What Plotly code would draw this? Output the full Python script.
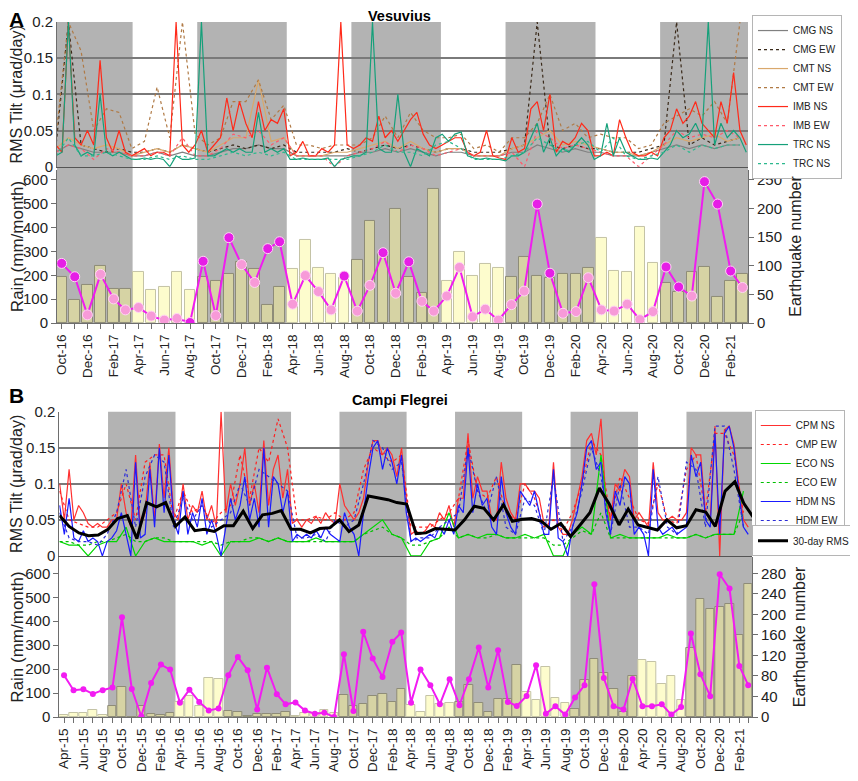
import numpy as np
import pandas as pd
import plotly.graph_objects as go
from plotly.subplots import make_subplots

FONT = "Liberation Sans, Arial, sans-serif"

# ---------------- Vesuvius (panel A) ----------------
# RMS tilt, values in 0.001 urad/day
ves_imb_ns = [30, 20, 200, 40, 30, 50, 30, 147, 40, 20,
              50, 20, 15, 20, 25, 15, 20, 20, 15, 200,
              30, 20, 30, 50, 20, 30, 40, 95, 50, 90,
              60, 40, 90, 50, 65, 60, 80, 15, 20, 35,
              15, 15, 25, 20, 30, 200, 30, 25, 30, 40,
              35, 70, 40, 50, 35, 50, 65, 75, 45, 30,
              25, 30, 35, 40, 40, 20, 15, 20, 50, 15,
              12, 10, 40, 20, 25, 80, 90, 50, 100, 20,
              35, 30, 40, 60, 50, 15, 15, 20, 15, 65,
              40, 20, 15, 15, 20, 15, 40, 50, 80, 60,
              70, 90, 60, 50, 40, 90, 60, 130, 50, 30]
ves_trc_ns = [15, 20, 200, 30, 15, 20, 15, 100, 20, 15,
              20, 15, 10, 10, 12, 10, 12, 10, 0, 15,
              10, 10, 12, 200, 15, 15, 20, 25, 20, 25,
              20, 20, 75, 20, 25, 20, 25, 10, 10, 12,
              10, 10, 10, 12, 0, 10, 12, 15, 15, 20,
              200, 25, 20, 20, 100, 20, 0, 25, 20, 15,
              40, 45, 35, 45, 48, 15, 12, 10, 12, 10,
              10, 8, 15, 15, 20, 40, 60, 20, 40, 15,
              25, 20, 30, 40, 30, 10, 15, 60, 15, 40,
              20, 15, 10, 10, 12, 10, 20, 30, 50, 40,
              45, 60, 40, 200, 30, 60, 40, 50, 40, 20]
ves_cmg_ns = [20, 30, 25, 20, 20, 20, 15, 15, 20, 15, 20, 15, 15, 20, 25, 25, 30, 25, 25, 15,
              15, 15, 15, 15, 20, 20, 25, 20, 25, 20, 15, 20, 20, 15, 15, 15, 20, 20, 30, 25,
              20, 25, 20, 20, 15, 15, 15, 20, 25, 30, 25, 30, 25, 30, 30]
ves_cmg_ew = [25, 200, 30, 25, 20, 25, 20, 20, 25, 20, 30, 25, 20, 25, 30, 25, 30, 25, 30, 20,
              20, 20, 20, 25, 20, 25, 30, 25, 30, 25, 20, 25, 25, 20, 20, 20, 25, 30, 200, 30,
              25, 30, 25, 25, 20, 20, 20, 25, 30, 200, 30, 40, 30, 35, 40]
ves_cmt_ns = [25, 40, 30, 25, 30, 25, 15, 20, 25, 20, 30, 25, 20, 30, 40, 40, 120, 35, 40, 15,
              15, 15, 20, 20, 25, 30, 35, 25, 35, 25, 20, 25, 25, 15, 15, 15, 25, 30, 40, 50,
              30, 35, 30, 25, 20, 20, 15, 20, 30, 40, 35, 40, 45, 35, 40]
ves_cmt_ew = [40, 200, 160, 50, 80, 75, 25, 35, 110, 40, 200, 45, 30, 40, 90, 90, 120, 65, 85, 30,
              30, 25, 30, 30, 30, 40, 70, 40, 75, 50, 40, 40, 45, 25, 30, 20, 40, 40, 60, 100,
              50, 60, 40, 45, 40, 40, 25, 30, 60, 70, 80, 70, 90, 60, 200]
ves_imb_ew = [20, 30, 25, 10, 25, 20, 15, 15, 20, 15, 40, 15, 15, 25, 45, 40, 50, 30, 40, 15,
              15, 15, 0, 15, 20, 25, 35, 20, 30, 25, 15, 20, 25, 15, 15, 15, 20, 0, 50, 40,
              25, 30, 25, 20, 15, 15, 0, 15, 30, 50, 40, 45, 40, 50, 40]
ves_trc_ew = [15, 40, 15, 15, 20, 15, 10, 10, 15, 10, 15, 10, 10, 15, 20, 15, 20, 15, 20, 10,
              10, 10, 10, 10, 15, 20, 30, 20, 20, 15, 30, 35, 25, 10, 10, 10, 15, 20, 40, 30,
              20, 30, 35, 20, 40, 15, 10, 15, 20, 30, 20, 30, 25, 30, 30]

# monthly rain (mm/month) and earthquake counts, Oct-16 .. Mar-21
ves_rain = [250, 194, 34, 204, 101, 55, 65, 29, 12, 19,
            2, 259, 31, 358, 245, 170, 312, 341, 79, 199,
            132, 55, 197, 50, 158, 295, 125, 257, 91, 50,
            113, 233, 26, 58, 12, 77, 134, 499, 209, 41,
            48, 190, 55, 50, 79, 14, 48, 235, 151, 113,
            593, 499, 218, 149]
ves_eq = [81, 41, 67, 100, 60, 60, 89, 58, 63, 90,
          58, 80, 73, 85, 106, 94, 32, 63, 94, 145,
          97, 86, 78, 111, 178, 121, 200, 81, 53, 234,
          74, 125, 83, 104, 97, 80, 116, 83, 79, 85,
          86, 96, 149, 91, 90, 168, 105, 70, 55, 89,
          98, 46, 74, 85]
ves_rain_flag = [1, 1, 0, 0, 0, 0, 0, 0, 0, 0,
                 1, 1, 0, 1, 0, 0, 1, 1, 0, 0,
                 0, 0, 1, 0, 0, 1, 0, 1, 0, 0,
                 0, 0, 0, 0, 0, 0, 0, 1, 1, 0,
                 0, 0, 0, 0, 0, 0, 0, 1, 1, 0,
                 1, 1, 1, 0]

# ---------------- Campi Flegrei (panel B) ----------------
cf_cpm_ns = [100, 50, 120, 50, 70, 60, 45, 40, 45, 40,
             40, 50, 50, 100, 60, 40, 140, 40, 60, 130,
             50, 155, 80, 150, 60, 50, 100, 50, 70, 60,
             90, 50, 70, 40, 200, 60, 100, 70, 100, 150,
             70, 100, 60, 160, 70, 120, 140, 80, 120, 45,
             50, 40, 50, 45, 55, 45, 60, 50, 45, 100,
             70, 60, 50, 60, 80, 130, 160, 160, 140, 150,
             140, 110, 150, 80, 30, 35, 30, 35, 45, 40,
             60, 50, 70, 40, 80, 80, 170, 80, 110, 90,
             90, 50, 50, 130, 80, 60, 50, 100, 100, 90,
             90, 80, 45, 40, 130, 40, 30, 30, 50, 80,
             110, 160, 170, 140, 190, 80, 50, 100, 90, 120,
             110, 50, 60, 50, 40, 130, 60, 50, 50, 55,
             50, 50, 60, 150, 140, 140, 60, 50, 180, 0,
             175, 180, 155, 100, 50, 40]
cf_hdm_ns = [70, 30, 80, 25, 20, 35, 20, 25, 20, 0,
             20, 25, 35, 60, 30, 0, 130, 25, 30, 120,
             40, 150, 60, 140, 50, 30, 90, 30, 60, 40,
             80, 30, 50, 30, 0, 40, 80, 50, 70, 110,
             50, 80, 40, 150, 40, 110, 100, 60, 90, 20,
             30, 25, 30, 25, 35, 25, 40, 30, 25, 20,
             60, 40, 30, 0, 60, 110, 150, 160, 120, 150,
             130, 100, 140, 60, 20, 25, 20, 25, 30, 25,
             40, 30, 50, 30, 70, 60, 150, 60, 100, 70,
             80, 40, 30, 110, 60, 40, 30, 90, 80, 70,
             90, 60, 30, 30, 120, 25, 20, 0, 40, 60,
             100, 150, 160, 120, 130, 60, 30, 90, 70, 110,
             100, 30, 40, 30, 0, 120, 40, 30, 35, 40,
             30, 35, 40, 140, 110, 130, 50, 40, 170, 30,
             170, 180, 150, 90, 40, 30]
cf_cmp_ew = [90, 50, 45, 40, 40, 50, 60, 100, 50, 130,
             140, 140, 50, 90, 60, 70, 45, 60, 70, 140,
             80, 150, 130, 190, 150, 50, 50, 55, 50, 60,
             50, 60, 120, 150, 140, 130, 140, 40, 40, 40,
             50, 60, 80, 160, 90, 80, 110, 60, 50, 100,
             80, 40, 50, 35, 60, 100, 160, 140, 50, 110,
             80, 50, 45, 100, 50, 45, 120, 140, 60, 170,
             170, 140, 60]
cf_hdm_ew = [60, 25, 20, 20, 15, 30, 60, 120, 40, 110,
             140, 130, 40, 80, 50, 70, 40, 50, 60, 100,
             70, 120, 110, 100, 90, 25, 25, 30, 20, 50,
             40, 50, 100, 160, 150, 120, 130, 20, 25, 25,
             40, 50, 60, 150, 90, 60, 110, 40, 30, 80,
             70, 30, 110, 20, 40, 90, 150, 110, 30, 100,
             40, 40, 30, 110, 40, 30, 130, 120, 40, 180,
             180, 120, 40]
cf_eco_ns = [20, 15, 15, 0, 15, 20, 20, 40, 0, 20,
             25, 20, 20, 20, 20, 15, 20, 0, 20, 20,
             20, 25, 20, 25, 20, 20, 20, 25, 20, 20,
             20, 20, 30, 40, 50, 30, 25, 0, 0, 20,
             25, 60, 25, 30, 25, 30, 30, 25, 25, 30,
             25, 30, 0, 0, 30, 40, 30, 140, 25, 30,
             25, 25, 25, 25, 30, 25, 25, 30, 25, 30,
             30, 30, 90]
cf_eco_ew = [20, 20, 15, 15, 20, 20, 25, 30, 20, 20,
             25, 25, 20, 20, 20, 20, 20, 15, 20, 20,
             25, 25, 20, 25, 20, 20, 20, 20, 20, 20,
             20, 20, 30, 35, 40, 30, 25, 15, 15, 20,
             25, 40, 25, 30, 25, 25, 30, 25, 25, 25,
             25, 25, 15, 15, 25, 35, 30, 60, 25, 25,
             25, 25, 25, 25, 25, 25, 25, 30, 25, 30,
             30, 30, 60]
cf_rms30 = [56, 41, 32, 28, 29, 37, 52, 56, 24, 74,
            68, 74, 41, 54, 35, 37, 34, 42, 42, 62,
            38, 57, 59, 63, 37, 37, 32, 38, 39, 50,
            34, 43, 83, 81, 78, 74, 72, 31, 32, 38,
            37, 36, 50, 69, 66, 50, 71, 48, 51, 52,
            48, 37, 45, 27, 43, 60, 94, 72, 43, 65,
            43, 40, 36, 50, 39, 42, 64, 61, 41, 90,
            103, 73, 53]

# monthly rain and earthquake counts, Apr-15 .. Mar-21
cf_rain = [174, 112, 116, 96, 112, 123, 416, 117, 3, 142,
           219, 198, 60, 114, 63, 27, 36, 174, 251, 195,
           31, 206, 95, 53, 61, 27, 14, 18, 0, 262,
           25, 356, 244, 167, 314, 353, 60, 198, 133, 53,
           158, 49, 158, 290, 123, 279, 63, 46, 88, 216,
           14, 45, 10, 81, 133, 554, 163, 45, 31, 159,
           45, 45, 53, 10, 42, 349, 179, 87, 596, 536,
           213, 133]
cf_eq = [3, 7, 7, 13, 3, 21, 59, 0, 22, 5,
         4, 8, 29, 40, 22, 77, 74, 11, 10, 2,
         5, 5, 5, 10, 2, 7, 7, 13, 7, 42,
         21, 25, 40, 44, 29, 55, 23, 9, 40, 25,
         27, 29, 62, 28, 10, 36, 36, 102, 49, 33,
         98, 38, 28, 15, 72, 113, 85, 55, 10, 79,
         111, 107, 64, 79, 34, 135, 231, 210, 215, 221,
         159, 260]


def dates(start, vals, freq):
    return pd.date_range(start, periods=len(vals), freq=freq)


def months(start, n):
    return pd.date_range(start, periods=n, freq="MS") + pd.Timedelta(days=14)


def tilt(vals):
    return np.array(vals) / 1000.0


def is_wet(m):
    return m.month >= 9 or m.month <= 3


ves_months = months("2016-10-01", len(ves_rain))
cf_months = months("2015-04-01", len(cf_rain))
ves_labels = [m.strftime("%b-%y") if i % 2 == 0 else "" for i, m in enumerate(ves_months)]
cf_labels = [m.strftime("%b-%y") if i % 2 == 0 else "" for i, m in enumerate(cf_months)]

fig = make_subplots(rows=4, cols=1,
                    specs=[[{}], [{"secondary_y": True}], [{}], [{"secondary_y": True}]])

# --- A tilt
ves_tilt = [
    ("CMG NS", ves_cmg_ns, "30D", "#808080", "solid"),
    ("CMG EW", ves_cmg_ew, "30D", "#3a2a1a", "dot"),
    ("CMT NS", ves_cmt_ns, "30D", "#d9a86c", "solid"),
    ("CMT EW", ves_cmt_ew, "30D", "#b07a45", "dot"),
    ("IMB NS", ves_imb_ns, "15D", "#ff2a1a", "solid"),
    ("IMB EW", ves_imb_ew, "30D", "#ff5a6a", "dot"),
    ("TRC NS", ves_trc_ns, "15D", "#15a07a", "solid"),
    ("TRC NS", ves_trc_ew, "30D", "#2cb98e", "dot"),
]
for name, vals, freq, col, dash in ves_tilt:
    fig.add_trace(go.Scatter(x=dates("2016-10-01", vals, freq), y=tilt(vals), name=name,
                             mode="lines", line=dict(color=col, width=1.2, dash=dash),
                             legend="legend"), row=1, col=1)

# --- A rain / earthquakes
ves_bar_col = ["#d6d3a4" if is_wet(m) else "#fdfccd" for m in ves_months]
ves_bar_line = ["#8e8c78" if is_wet(m) else "#c4c3a6" for m in ves_months]
fig.add_trace(go.Bar(x=ves_months, y=ves_eq, width=25 * 86400000, showlegend=False,
                     marker=dict(color=ves_bar_col, line=dict(color=ves_bar_line, width=1))),
              row=2, col=1, secondary_y=False)
fig.add_trace(go.Scatter(x=ves_months, y=ves_rain, mode="lines+markers", showlegend=False,
                         line=dict(color="#f01cf0", width=2),
                         marker=dict(size=10,
                                     color=["#e61ee6" if f else "#f79ad8" for f in ves_rain_flag],
                                     line=dict(color="#ffd6f4", width=1))),
              row=2, col=1, secondary_y=True)

# --- B tilt
cf_tilt = [
    ("CPM NS", cf_cpm_ns, "15D", "#ff3030", "solid"),
    ("CMP EW", cf_cmp_ew, "30D", "#ff2020", "dot"),
    ("ECO NS", cf_eco_ns, "30D", "#00d800", "solid"),
    ("ECO EW", cf_eco_ew, "30D", "#00c000", "dot"),
    ("HDM NS", cf_hdm_ns, "15D", "#1a1aff", "solid"),
    ("HDM EW", cf_hdm_ew, "30D", "#2b2bd8", "dot"),
]
for name, vals, freq, col, dash in cf_tilt:
    fig.add_trace(go.Scatter(x=dates("2015-04-01", vals, freq), y=tilt(vals), name=name,
                             mode="lines", line=dict(color=col, width=1.2, dash=dash),
                             legend="legend2"), row=3, col=1)
fig.add_trace(go.Scatter(x=pd.date_range("2015-04-01", periods=len(cf_rms30), freq="MS"),
                         y=tilt(cf_rms30), name="30-day RMS", mode="lines",
                         line=dict(color="black", width=3), legend="legend3"), row=3, col=1)

# --- B rain / earthquakes
cf_bar_col = ["#d6d3a4" if is_wet(m) else "#fdfccd" for m in cf_months]
cf_bar_line = ["#8e8c78" if is_wet(m) else "#c4c3a6" for m in cf_months]
fig.add_trace(go.Bar(x=cf_months, y=cf_eq, width=27 * 86400000, showlegend=False,
                     marker=dict(color=cf_bar_col, line=dict(color=cf_bar_line, width=1))),
              row=4, col=1, secondary_y=False)
fig.add_trace(go.Scatter(x=cf_months, y=cf_rain, mode="lines+markers", showlegend=False,
                         line=dict(color="#f21cf2", width=2),
                         marker=dict(size=6, color="#f21cf2")),
              row=4, col=1, secondary_y=True)

# wet-season shading (Sep-Mar)
def seasons(ms):
    y0 = ms[0].year - (1 if ms[0].month < 4 else 0)
    return [(pd.Timestamp(y, 9, 1), pd.Timestamp(y + 1, 4, 1)) for y in range(y0, ms[-1].year)]


shapes = []
for a, b in seasons(ves_months):
    shapes.append(dict(type="rect", xref="x", yref="paper", x0=a, x1=b, y0=0.5669, y1=1.0,
                       fillcolor="#b3b3b3", line=dict(width=0), layer="below"))
for a, b in seasons(cf_months):
    shapes.append(dict(type="rect", xref="x3", yref="paper", x0=a, x1=b, y0=0.0, y1=0.4393,
                       fillcolor="#b3b3b3", line=dict(width=0), layer="below"))

ax_line = "#6e6e6e"
tick_font = dict(family=FONT, size=15, color="#222")
xr_a = ["2016-10-04", "2021-03-28"]
xr_b = ["2015-03-31", "2021-03-27"]
tilt_y = dict(range=[0, 0.2], tickvals=[0, 0.05, 0.1, 0.15, 0.2],
              ticktext=["0", "0.05", "0.1", "0.15", "0.2"], showgrid=True,
              gridcolor="#7a7a7a", gridwidth=1.5, zeroline=False, showline=True,
              linecolor=ax_line, tickfont=tick_font,
              title=dict(text="RMS Tilt (\u03bcrad/day)", font=dict(family=FONT, size=16), standoff=6))
rain_y = dict(tickvals=list(range(0, 601, 100)), showgrid=False, zeroline=False, showline=True,
              linecolor=ax_line, ticks="outside", ticklen=5, tickcolor=ax_line, tickfont=tick_font,
              side="left", title=dict(text="Rain (mm/month)", font=dict(family=FONT, size=17), standoff=4))
eq_y = dict(showgrid=False, zeroline=False, showline=True, linecolor=ax_line, ticks="outside",
            ticklen=5, tickcolor=ax_line, tickfont=tick_font, side="right",
            title=dict(text="Earthquake number", font=dict(family=FONT, size=16), standoff=8))
tilt_x = dict(type="date", showgrid=False, showticklabels=False, ticks="", showline=True,
              linecolor="#555", zeroline=False)
month_x = dict(type="date", showgrid=False, ticks="outside", ticklen=5, tickcolor=ax_line,
               showline=True, linecolor=ax_line, tickangle=-90, zeroline=False,
               tickfont=dict(family=FONT, size=13.5, color="#222"))
leg = dict(xanchor="left", yanchor="top", bgcolor="white", bordercolor="#b5b5b5",
           borderwidth=1, itemwidth=30, tracegroupgap=0,
           font=dict(family=FONT, size=10, color="#222"))

# the page body adds an 8 px margin, so the figure is sized to end at the window edge
fig.update_layout(
    width=850, height=773,
    margin=dict(l=49, r=106, t=14, b=64, autoexpand=False),
    paper_bgcolor="white", plot_bgcolor="rgba(0,0,0,0)",
    font=dict(family=FONT, color="#222"),
    bargap=0, showlegend=True, shapes=shapes,
    xaxis=dict(tilt_x, domain=[0, 0.9942], range=xr_a, anchor="y"),
    xaxis2=dict(month_x, domain=[0, 0.9942], range=xr_a, anchor="y2",
                tickvals=ves_months, ticktext=ves_labels),
    xaxis3=dict(tilt_x, domain=[0.0033, 1.0], range=xr_b, anchor="y4"),
    xaxis4=dict(month_x, domain=[0.0033, 1.0], range=xr_b, anchor="y5",
                tickvals=cf_months, ticktext=cf_labels),
    yaxis=dict(tilt_y, domain=[0.7918, 1.0], anchor="x"),
    yaxis2=dict(eq_y, domain=[0.5669, 0.7871], range=[0, 267.5],
                tickvals=list(range(0, 251, 50)), anchor="x2"),
    yaxis3=dict(rain_y, range=[0, 642], overlaying="y2", anchor="x2"),
    yaxis4=dict(tilt_y, domain=[0.2317, 0.4393], anchor="x3"),
    yaxis5=dict(eq_y, domain=[0.0, 0.2302], range=[0, 312],
                tickvals=list(range(0, 281, 40)), anchor="x4"),
    yaxis6=dict(rain_y, range=[0, 668], overlaying="y5", anchor="x4"),
    legend=dict(leg, x=1.0, y=1.01),
    legend2=dict(leg, x=1.004, y=0.4417),
    legend3=dict(leg, x=1.0, y=0.276),
    annotations=[
        dict(text="<b>Vesuvius</b>", x=0.4935, y=1.0086, xref="paper", yref="paper",
             xanchor="center", yanchor="middle", showarrow=False,
             font=dict(family=FONT, size=14.5, color="black")),
        dict(text="<b>Campi Flegrei</b>", x=0.4935, y=0.456, xref="paper", yref="paper",
             xanchor="center", yanchor="middle", showarrow=False,
             font=dict(family=FONT, size=14.5, color="black")),
        dict(text="<b>A</b>", x=-0.058, y=1.003, xref="paper", yref="paper",
             xanchor="center", yanchor="middle", showarrow=False,
             font=dict(family=FONT, size=21, color="black")),
        dict(text="<b>B</b>", x=-0.058, y=0.4633, xref="paper", yref="paper",
             xanchor="center", yanchor="middle", showarrow=False,
             font=dict(family=FONT, size=21, color="black")),
    ],
)

fig.write_html("out.html")
